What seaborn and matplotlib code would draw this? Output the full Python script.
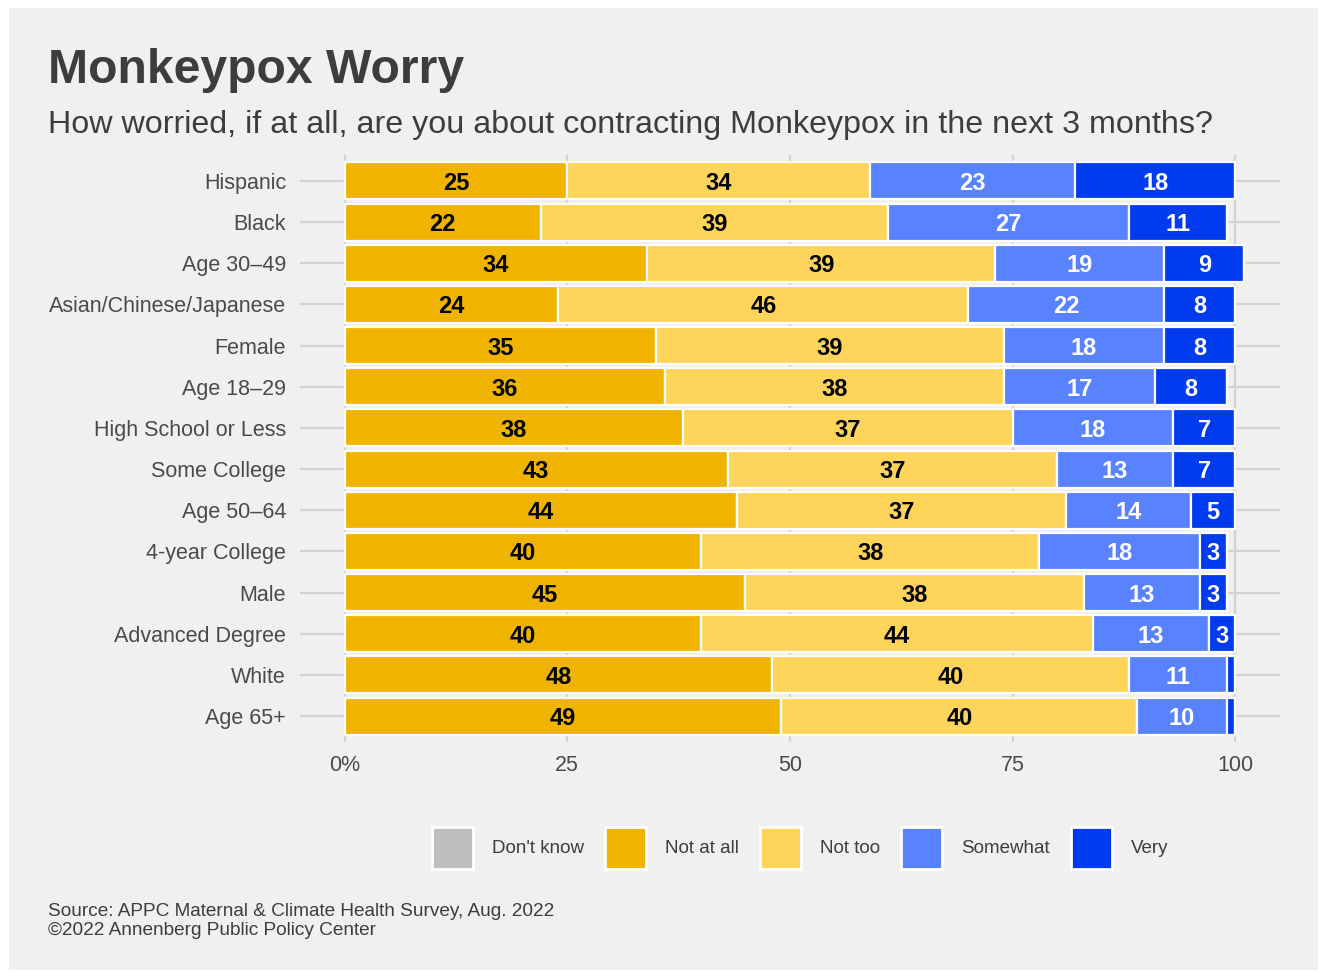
import matplotlib
matplotlib.use("Agg")
import matplotlib.pyplot as plt
from matplotlib.patches import Patch, Rectangle
import numpy as np
import pandas as pd
import seaborn as sns

# Survey responses (percent) by demographic group
groups = ["Hispanic", "Black", "Age 30–49", "Asian/Chinese/Japanese", "Female",
          "Age 18–29", "High School or Less", "Some College", "Age 50–64",
          "4-year College", "Male", "Advanced Degree", "White", "Age 65+"]
not_at_all = [25, 22, 34, 24, 35, 36, 38, 43, 44, 40, 45, 40, 48, 49]
not_too = [34, 39, 39, 46, 39, 38, 37, 37, 37, 38, 38, 44, 40, 40]
somewhat = [23, 27, 19, 22, 18, 17, 18, 13, 14, 18, 13, 13, 11, 10]
very = [18, 11, 9, 8, 8, 8, 7, 7, 5, 3, 3, 3, 1, 1]
dont_know = [0, 0, 0, 0, 0, 0, 0, 0, 0, 0, 0, 0, 0, 0]

responses = ["Not at all", "Not too", "Somewhat", "Very", "Don't know"]
colors = {"Don't know": "#bebebe", "Not at all": "#f0b400", "Not too": "#ffd45a",
          "Somewhat": "#5882ff", "Very": "#003bee"}
text_colors = {"Not at all": "black", "Not too": "black", "Somewhat": "white",
               "Very": "white", "Don't know": "black"}
x_ticks = [0, 25, 50, 75, 100]
x_ticklabels = ["0%", "25", "50", "75", "100"]

df = pd.DataFrame({"group": groups, "Not at all": not_at_all, "Not too": not_too,
                   "Somewhat": somewhat, "Very": very, "Don't know": dont_know})

sns.set_theme(style="white")
plt.rcParams["font.family"] = ["Liberation Sans", "DejaVu Sans"]

BG = "#f0f0f0"
TXT = "#3d3d3d"

fig = plt.figure(figsize=(13.19, 9.72), dpi=100, facecolor="white")
fig.patches.append(Rectangle((9 / 1319, 2 / 972), 1309 / 1319, 962 / 972,
                             transform=fig.transFigure, facecolor=BG,
                             edgecolor="none", zorder=-10))

ax = fig.add_axes([300 / 1319, 1 - 742 / 972, 980 / 1319, 587 / 972])
ax.set_facecolor("none")

left = np.zeros(len(groups))
for resp in responses:
    vals = df[resp].to_numpy(dtype=float)
    sns.barplot(data=df, x=resp, y="group", order=groups, orient="h",
                left=left, color=colors[resp], saturation=1, width=0.9,
                edgecolor="white", linewidth=1.6, errorbar=None, ax=ax, zorder=3)
    for i, v in enumerate(vals):
        if v >= 3:
            ax.text(left[i] + v / 2, i, f"{int(v)}", ha="center", va="center_baseline",
                    fontsize=17, fontweight="bold", color=text_colors[resp], zorder=4)
    left = left + vals

ax.set_xlim(-5, 105)
ax.set_ylim(len(groups) - 1 + 0.63, -0.63)
ax.set_xticks(x_ticks)
ax.set_xticklabels(x_ticklabels)
ax.set_xlabel("")
ax.set_ylabel("")
ax.grid(True, axis="both", color="#d2d2d2", linewidth=1.6)
ax.set_axisbelow(True)
for s in ax.spines.values():
    s.set_visible(False)
ax.tick_params(axis="y", length=0, pad=10, labelsize=15.5, labelcolor="#4a4a4a")
ax.tick_params(axis="x", length=0, pad=9, labelsize=15.5, labelcolor="#4a4a4a")

# Titles
fig.text(48 / 1319, 1 - 83 / 972, "Monkeypox Worry", fontsize=34.7,
         fontweight="bold", color=TXT, va="baseline")
fig.text(48 / 1319, 1 - 133 / 972,
         "How worried, if at all, are you about contracting Monkeypox in the next 3 months?",
         fontsize=23.2, color=TXT, va="baseline")

# Legend
legend_order = ["Don't know", "Not at all", "Not too", "Somewhat", "Very"]
handles = [Patch(facecolor=colors[r], edgecolor="white", linewidth=2) for r in legend_order]
leg = fig.legend(handles, legend_order, loc="center", bbox_to_anchor=(800 / 1319, 1 - 848 / 972),
                 ncol=5, frameon=False, fontsize=13.5, handlelength=2.2,
                 handleheight=3.0, handletextpad=1.0, columnspacing=1.12)
for t in leg.get_texts():
    t.set_color(TXT)

# Caption
fig.text(48 / 1319, 1 - 916 / 972,
         "Source: APPC Maternal & Climate Health Survey, Aug. 2022",
         fontsize=13.7, color=TXT, va="baseline")
fig.text(48 / 1319, 1 - 935 / 972, "©2022 Annenberg Public Policy Center",
         fontsize=13.7, color=TXT, va="baseline")

fig.savefig("out.png", dpi=100, facecolor=fig.get_facecolor())
